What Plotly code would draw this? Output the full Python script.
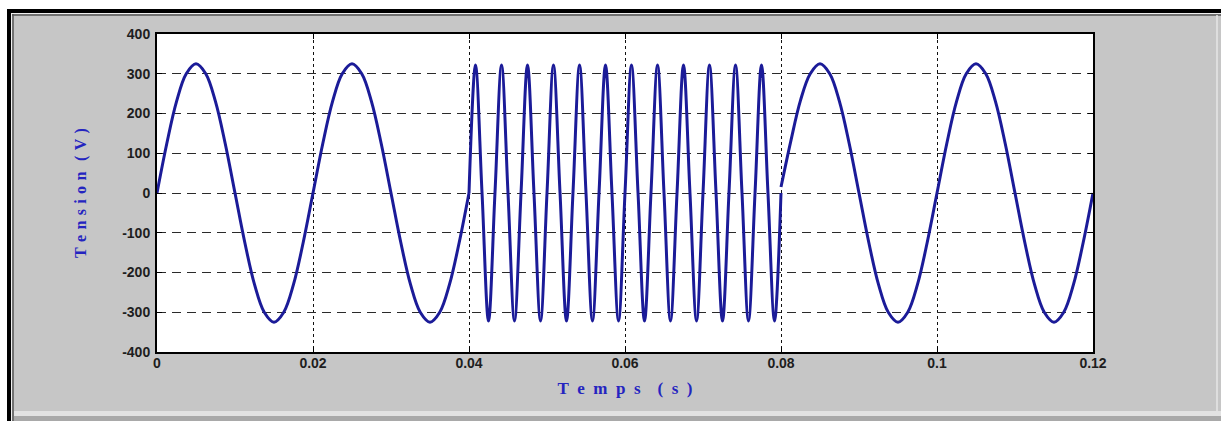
import plotly.graph_objects as go

# ---- data (key points along the waveform) ----
# segment 1: 50 Hz, 0 -> 0.04 s
seg1_t = [0.0, 0.00125, 0.0025, 0.00375, 0.005, 0.00625, 0.0075, 0.00875,
          0.01, 0.01125, 0.0125, 0.01375, 0.015, 0.01625, 0.0175, 0.01875,
          0.02, 0.02125, 0.0225, 0.02375, 0.025, 0.02625, 0.0275, 0.02875,
          0.03, 0.03125, 0.0325, 0.03375, 0.035, 0.03625, 0.0375, 0.03875,
          0.04]
seg1_v = [0, 124, 230, 300, 325, 300, 230, 124,
          0, -124, -230, -300, -325, -300, -230, -124,
          0, 124, 230, 300, 325, 300, 230, 124,
          0, -124, -230, -300, -325, -300, -230, -124,
          0]

# segment 2: fast oscillation, 0.04 -> 0.08 s (12 cycles)
seg2_t = [0.04, 0.04083, 0.04167, 0.0425, 0.04333, 0.04417, 0.045, 0.04583,
          0.04667, 0.0475, 0.04833, 0.04917, 0.05, 0.05083, 0.05167, 0.0525,
          0.05333, 0.05417, 0.055, 0.05583, 0.05667, 0.0575, 0.05833, 0.05917,
          0.06, 0.06083, 0.06167, 0.0625, 0.06333, 0.06417, 0.065, 0.06583,
          0.06667, 0.0675, 0.06833, 0.06917, 0.07, 0.07083, 0.07167, 0.0725,
          0.07333, 0.07417, 0.075, 0.07583, 0.07667, 0.0775, 0.07833, 0.07917,
          0.08]
seg2_v = [0, 322, 0, -322, 0, 322, 0, -322, 0, 322, 0, -322,
          0, 322, 0, -322, 0, 322, 0, -322, 0, 322, 0, -322,
          0, 322, 0, -322, 0, 322, 0, -322, 0, 322, 0, -322,
          0, 322, 0, -322, 0, 322, 0, -322, 0, 322, 0, -322,
          0]

# segment 3: 50 Hz, 0.08 -> 0.12 s
seg3_t = [0.08, 0.08125, 0.0825, 0.08375, 0.085, 0.08625, 0.0875, 0.08875,
          0.09, 0.09125, 0.0925, 0.09375, 0.095, 0.09625, 0.0975, 0.09875,
          0.1, 0.10125, 0.1025, 0.10375, 0.105, 0.10625, 0.1075, 0.10875,
          0.11, 0.11125, 0.1125, 0.11375, 0.115, 0.11625, 0.1175, 0.11875,
          0.12]
seg3_v = [15, 130, 233, 300, 325, 300, 230, 124,
          0, -124, -230, -300, -325, -300, -230, -124,
          0, 124, 230, 300, 325, 300, 230, 124,
          0, -124, -230, -300, -325, -300, -230, -124,
          0]

x_ticks = [0, 0.02, 0.04, 0.06, 0.08, 0.1, 0.12]
x_labels = ["0", "0.02", "0.04", "0.06", "0.08", "0.1", "0.12"]
y_ticks = [-400, -300, -200, -100, 0, 100, 200, 300, 400]
y_labels = ["-400", "-300", "-200", "-100", "0", "100", "200", "300", "400"]

SPX = "\u2002"
SPY = "\u2004"
x_title = SPX.join("Temps") + SPX + SPX + SPX.join("(s)")
y_title = SPY.join("Tension") + SPY + SPY + SPY.join("(V)")

W, H = 1221, 421
L, R, T, B = 157, 1093, 34, 352  # plot area in pixels

LINE = "#1b1b98"
fig = go.Figure()
for tt, vv in [(seg1_t, seg1_v), (seg2_t, seg2_v), (seg3_t, seg3_v)]:
    fig.add_trace(go.Scatter(x=tt, y=vv, mode="lines",
                             line=dict(color=LINE, width=3, shape="spline", smoothing=1),
                             showlegend=False, hoverinfo="skip"))

def px(xp):
    return (xp - L) / (R - L)

def py(yp):
    return (B - yp) / (B - T)

shapes = []
# white outside strips
shapes.append(dict(type="rect", xref="paper", yref="paper", x0=px(0), x1=px(W), y0=py(0), y1=py(9),
                   fillcolor="white", line_width=0, layer="below"))
shapes.append(dict(type="rect", xref="paper", yref="paper", x0=px(0), x1=px(7), y0=py(0), y1=py(H),
                   fillcolor="white", line_width=0, layer="below"))
# black outer border
shapes.append(dict(type="rect", xref="paper", yref="paper", x0=px(7), x1=px(W), y0=py(9), y1=py(13),
                   fillcolor="black", line_width=0))
shapes.append(dict(type="rect", xref="paper", yref="paper", x0=px(7), x1=px(11), y0=py(9), y1=py(H),
                   fillcolor="black", line_width=0))
# light + dark inner bevel lines
shapes.append(dict(type="line", xref="paper", yref="paper", x0=px(11), x1=px(W), y0=py(13.5), y1=py(13.5),
                   line=dict(color="#f0f0f0", width=1)))
shapes.append(dict(type="line", xref="paper", yref="paper", x0=px(11.5), x1=px(11.5), y0=py(13), y1=py(H),
                   line=dict(color="#f0f0f0", width=1)))
shapes.append(dict(type="line", xref="paper", yref="paper", x0=px(12), x1=px(W), y0=py(15), y1=py(15),
                   line=dict(color="#555555", width=1.5)))
shapes.append(dict(type="line", xref="paper", yref="paper", x0=px(13), x1=px(13), y0=py(14), y1=py(H),
                   line=dict(color="#555555", width=1.5)))
# right and bottom light edges
shapes.append(dict(type="line", xref="paper", yref="paper", x0=px(1217), x1=px(1217), y0=py(15), y1=py(412),
                   line=dict(color="#e6e6e6", width=1.5)))
shapes.append(dict(type="rect", xref="paper", yref="paper", x0=px(14), x1=px(W), y0=py(411), y1=py(416),
                   fillcolor="#e2e2e2", line_width=0))
shapes.append(dict(type="rect", xref="paper", yref="paper", x0=px(14), x1=px(W), y0=py(416), y1=py(H),
                   fillcolor="#a9a9a9", line_width=0))

tickfont = dict(family="Liberation Sans, Arial", size=14, color="#1e1e1e", weight="bold")
xtitle_font = dict(family="Liberation Serif, Times New Roman", size=17, color="#2424c0", weight="bold")
ytitle_font = dict(family="Liberation Serif, Times New Roman", size=16, color="#2424c0", weight="bold")

fig.update_layout(
    width=W, height=H,
    margin=dict(l=L, r=W - R, t=T, b=H - B, pad=0),
    paper_bgcolor="#c6c6c6",
    plot_bgcolor="white",
    shapes=shapes,
    xaxis=dict(range=[0, 0.12], tickvals=x_ticks, ticktext=x_labels, tickfont=tickfont,
               showgrid=True, gridcolor="#111111", gridwidth=1.3, griddash="3px,3px",
               showline=True, linecolor="black", linewidth=2, mirror="ticks",
               ticks="inside", ticklen=5, tickcolor="black", zeroline=False,
               ticklabelstandoff=-3,
               title=dict(text=x_title, font=xtitle_font, standoff=12)),
    yaxis=dict(range=[-400, 400], tickvals=y_ticks, ticktext=y_labels, tickfont=tickfont,
               showgrid=True, gridcolor="#2a2a2a", gridwidth=1.3, griddash="9px,6px",
               showline=True, linecolor="black", linewidth=2, mirror="ticks",
               ticks="inside", ticklen=5, tickcolor="black", zeroline=False,
               ticklabelstandoff=2,
               title=dict(text=y_title, font=ytitle_font, standoff=32)),
)

fig.write_html("out.html", config={"displayModeBar": False},
               post_script="document.body.style.margin='0';document.body.style.padding='0';")
